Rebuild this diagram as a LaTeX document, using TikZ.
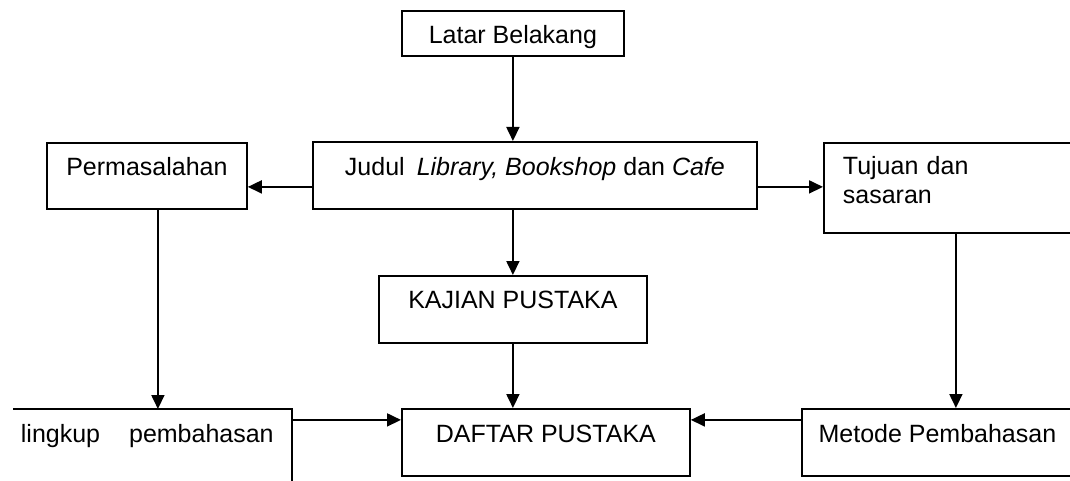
\documentclass[tikz,border=0pt]{standalone}
\usepackage{fontspec}
\setmainfont{Liberation Sans}
\usetikzlibrary{arrows.meta}
\usetikzlibrary{positioning}

\begin{document}
\begin{tikzpicture}[->,>={Triangle[length=7pt,width=6.5pt]},x=0.5pt,y=-0.5pt,line width=0.9pt]

            % Define styles
            \tikzstyle{kotak} = [rectangle, draw, inner sep=0pt, anchor=north west, font=\fontsize{12.5}{14.5}\selectfont]

            \useasboundingbox (0,0) rectangle (1070,481);
            \clip (0,0) rectangle (1070,481);

            % Boxes
            \node[kotak, minimum width=111pt, text height=16.5pt, text depth=6pt] (latar) at (401,10) {Latar Belakang};
            \node[kotak, minimum width=222pt, text height=17pt, text depth=16.5pt] (judul) at (312,141) {Judul\hspace{6pt}\textit{Library, Bookshop} dan \textit{Cafe}};
            \node[kotak, minimum width=100pt, text height=16.5pt, text depth=16.5pt] (masalah) at (46,142) {Permasalahan};
            \node[kotak, align=left, text width=113pt, inner xsep=9.5pt, text height=16pt, text depth=29pt] (tujuan) at (823,142) {Tujuan dan\\sasaran};
            \node[kotak, minimum width=134pt, text height=16.5pt, text depth=17pt] (kajian) at (378,275) {KAJIAN PUSTAKA};
            \node[kotak, minimum width=144pt, text height=17pt, text depth=16.5pt] (daftar) at (401,408) {DAFTAR PUSTAKA};
            \node[kotak, minimum width=135.5pt, text height=17pt, text depth=16.5pt] (metode) at (801,408) {Metode Pembahasan};
            \node[kotak, draw=none, align=left, text width=131.5pt, inner xsep=3.5pt, text height=16.5pt, text depth=25pt] (lingkup) at (13,409) {lingkup\hspace{14.5pt}pembahasan};
            \draw[-] (lingkup.north west) -- (lingkup.north east) -- (lingkup.south east);

            % Flows
            \draw[->] (latar) -- (latar |- judul.north);
            \draw[->] ([yshift=-5.75pt]judul.west) -- ([yshift=-5.75pt]judul.west -| masalah.east);
            \draw[->] ([yshift=-5.75pt]judul.east) -- ([yshift=-5.75pt]judul.east -| tujuan.west);
            \draw[->] (kajian.north |- judul.south) -- (kajian);
            \draw[->] (kajian) -- (kajian |- daftar.north);
            \draw[->] ([xshift=5.5pt]masalah.south) -- ([xshift=5.5pt]masalah.south |- lingkup.north);
            \draw[->] (tujuan.south) -- (tujuan.south |- metode.north);
            \draw[->] ([yshift=11.25pt]daftar.west -| lingkup.east) -- ([yshift=11.25pt]daftar.west);
            \draw[->] ([yshift=11.25pt]daftar.east -| metode.west) -- ([yshift=11.25pt]daftar.east);

        \end{tikzpicture}
\end{document}
